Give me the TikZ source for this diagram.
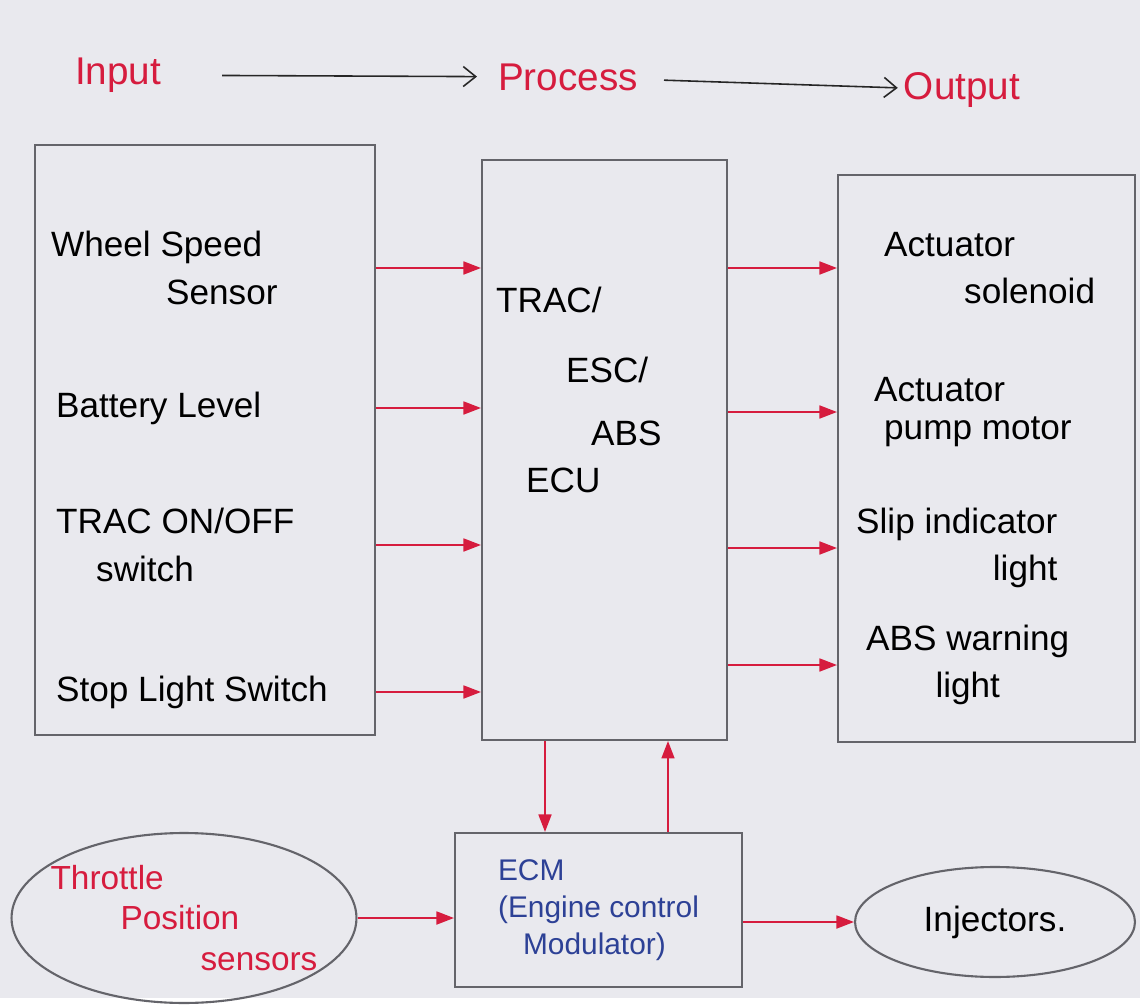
\documentclass[tikz,border=0pt]{standalone}
\usepackage{fontspec}
\setmainfont{Liberation Sans}
\usetikzlibrary{arrows.meta}
\usetikzlibrary{shapes.geometric}
\definecolor{paper}{RGB}{233,233,238}
\definecolor{pencil}{RGB}{100,100,106}
\definecolor{redink}{RGB}{214,28,62}
\definecolor{blueink}{RGB}{45,65,150}
\begin{document}
\begin{tikzpicture}[x=0.02cm, y=-0.02cm,
    every node/.style={font=\fontsize{20}{27}\selectfont},
    blk/.style={draw=pencil, line width=1.2pt, inner sep=0pt},
    sig/.style={draw=redink, line width=1pt, -{Triangle[length=3.5mm,width=2.6mm]}},
    flow/.style={draw=black!85, line width=0.9pt, -{Straight Barb[length=2.5mm,width=4mm]}},
    head/.style={text=redink, font=\fontsize{22}{26}\selectfont}]
  \fill[paper] (0,0) rectangle (1140,998);

  % heading
  \node[head] (input) at (118,75) {Input};
  \node[head] (process) at (568,77) {Process};
  \node[head] (output) at (962,90) {Output};
  \draw[flow, shorten <=1.1cm, shorten >=0.3cm] (input) -- (process);
  \draw[flow, shorten <=0.4cm] (process) -- (output);

  % blocks
  \node[blk, minimum width=6.8cm, minimum height=11.8cm] (inbox) at (205,440) {};
  \node[blk, minimum width=4.9cm, minimum height=11.6cm] (ecu) at (604.5,450) {};
  \node[blk, minimum width=5.94cm, minimum height=11.34cm] (outbox) at (986.5,458.5) {};
  \node[blk, minimum width=5.74cm, minimum height=3.08cm, align=left, text=blueink,
        font=\fontsize{17}{21}\selectfont] (ecm) at (598.5,910)
        {ECM\\(Engine control\\\hspace{0.5cm}Modulator)};
  \node[blk, ellipse, minimum width=6.9cm, minimum height=3.4cm] (throttle) at (184,918) {};
  \node[text=redink, align=left, font=\fontsize{19}{23}\selectfont] (throttletxt) at (throttle)
        {Throttle\\\hspace{1.4cm}Position\\\hspace{3.0cm}sensors};
  \node[blk, ellipse, minimum width=5.6cm, minimum height=2.2cm] (inj) at (995,922) {Injectors.};

  % inputs
  \node[anchor=west, align=left] (wheel) at (45,268) {Wheel Speed\\\hspace{2.3cm}Sensor};
  \node[anchor=west] (battery) at (50,408) {Battery Level};
  \node[anchor=west, align=left] (trac) at (50,545) {TRAC ON/OFF\\\hspace{0.8cm}switch};
  \node[anchor=west] (stop) at (50,692) {Stop Light Switch};

  \node[anchor=west, align=left] (ecutxt) at (490,390)
        {TRAC/\\[0.45cm]\hspace{1.4cm}ESC/\\[0.3cm]\hspace{1.9cm}ABS\\\hspace{0.6cm}ECU};

  % outputs
  \node[anchor=west, align=left] (solenoid) at (878,268) {Actuator\\\hspace{1.6cm}solenoid};
  \node[anchor=west, align=left] (pump) at (868,412) {Actuator\\[-0.2cm]\hspace{0.2cm}pump motor};
  \node[anchor=west, align=right] (slip) at (850,548) {Slip indicator\\light};
  \node[anchor=west, align=center] (warn) at (860,665) {ABS warning\\light};

  \draw[sig] (inbox.east |- wheel) -- (ecu.west |- wheel);
  \draw[sig] (inbox.east |- battery) -- (ecu.west |- battery);
  \draw[sig] (inbox.east |- trac) -- (ecu.west |- trac);
  \draw[sig] (inbox.east |- stop) -- (ecu.west |- stop);

  \draw[sig] (ecu.east |- solenoid) -- (outbox.west |- solenoid);
  \draw[sig] (ecu.east |- pump) -- (outbox.west |- pump);
  \draw[sig] (ecu.east |- slip) -- (outbox.west |- slip);
  \draw[sig] (ecu.east |- warn) -- (outbox.west |- warn);

  % ecu <-> ecm
  \coordinate (down) at (545,0);
  \coordinate (up) at (668,0);
  \draw[sig] (ecu.south -| down) -- (ecm.north -| down);
  \draw[sig] (ecm.north -| up) -- (ecu.south -| up);

  \draw[sig] (throttle) -- (ecm.west |- throttle);
  \draw[sig] (ecm.east |- inj) -- (inj);
\end{tikzpicture}
\end{document}
